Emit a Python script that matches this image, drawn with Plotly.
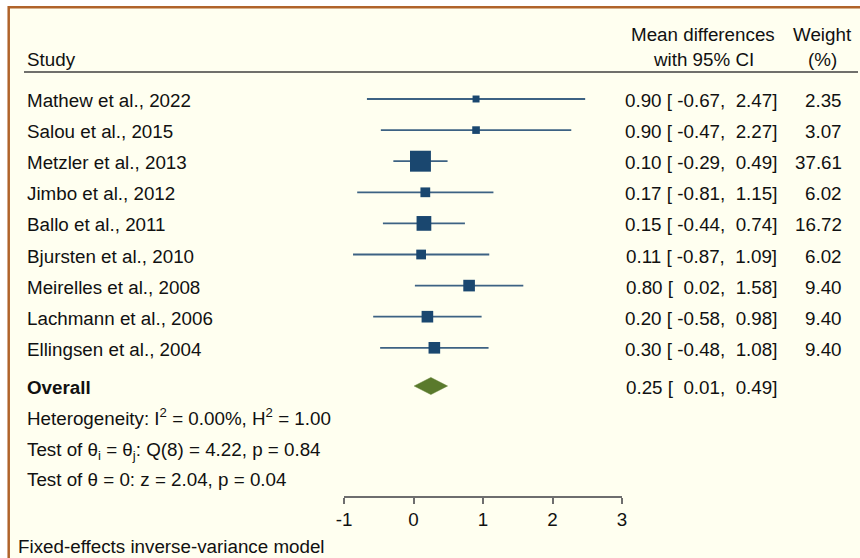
import plotly.graph_objects as go

studies = ["Mathew et al., 2022", "Salou et al., 2015", "Metzler et al., 2013",
           "Jimbo et al., 2012", "Ballo et al., 2011", "Bjursten et al., 2010",
           "Meirelles et al., 2008", "Lachmann et al., 2006", "Ellingsen et al., 2004"]
est = [0.90, 0.90, 0.10, 0.17, 0.15, 0.11, 0.80, 0.20, 0.30]
ci_low = [-0.67, -0.47, -0.29, -0.81, -0.44, -0.87, 0.02, -0.58, -0.48]
ci_high = [2.47, 2.27, 0.49, 1.15, 0.74, 1.09, 1.58, 0.98, 1.08]
weights = [2.35, 3.07, 37.61, 6.02, 16.72, 6.02, 9.40, 9.40, 9.40]

overall_est = 0.25
overall_low = 0.01
overall_high = 0.49

tick_vals = [-1, 0, 1, 2, 3]
tick_text = ["-1", "0", "1", "2", "3"]

stats_lines = [
    "Heterogeneity: I<sup>2</sup> = 0.00%, H<sup>2</sup> = 1.00",
    "Test of θ<sub>i</sub> = θ<sub>j</sub>: Q(8) = 4.22, p = 0.84",
    "Test of θ = 0: z = 2.04, p = 0.04",
]
footer = "Fixed-effects inverse-variance model"

W, H = 860, 558
FONT = "Liberation Sans, Arial, sans-serif"
FS = 18.8
TXT = "#111111"
NAVY = "#1a476f"
LINEC = "#3d6283"
GREEN = "#5a7a2c"

# layout helpers: row r sits at pixel 99 + 31.1*r
ROW0, ROWH = 99.0, 31.1
AX_PX = 496.0
def r_of(px):
    return (px - ROW0) / ROWH

fig = go.Figure()

rows = list(range(len(studies)))

# CI lines
for i in rows:
    fig.add_trace(go.Scatter(x=[ci_low[i], ci_high[i]], y=[i, i], mode="lines",
                             line=dict(color=LINEC, width=1.8), hoverinfo="skip",
                             showlegend=False, cliponaxis=False))

# squares sized by weight
sizes = [3.04 * (w ** 0.5) + 2.3 for w in weights]
fig.add_trace(go.Scatter(x=est, y=rows, mode="markers",
                         marker=dict(symbol="square", size=sizes, color=NAVY,
                                     opacity=1, line=dict(width=0)),
                         showlegend=False, cliponaxis=False))

# overall diamond
r_ov = r_of(386)
hh = 8.5 / ROWH
fig.add_trace(go.Scatter(x=[overall_low, overall_est, overall_high, overall_est, overall_low],
                         y=[r_ov, r_ov - hh, r_ov, r_ov + hh, r_ov],
                         mode="lines", fill="toself", fillcolor=GREEN,
                         line=dict(color=GREEN, width=0.5), showlegend=False,
                         cliponaxis=False, hoverinfo="skip"))

ann = []
def txt(text, xpx, ypx, xanchor="left", bold=False):
    t = f"<b>{text}</b>" if bold else text
    ann.append(dict(text=t, x=xpx / W, xref="paper", y=r_of(ypx), yref="y",
                    xanchor=xanchor, yanchor="middle", showarrow=False,
                    font=dict(family=FONT, size=FS, color=TXT)))

NB = "\u00a0"
for i in rows:
    ypx = ROW0 + ROWH * i + 1.5
    txt(studies[i], 25, ypx)
    s = f"{est[i]:.2f} [{ci_low[i]:6.2f}, {ci_high[i]:5.2f}]".replace(" ", NB)
    txt(s, 779, ypx, xanchor="right")
    txt(f"{weights[i]:.2f}", 844, ypx, xanchor="right")

txt("Overall", 25, 387.5, bold=True)
s = f"{overall_est:.2f} [{overall_low:6.2f}, {overall_high:5.2f}]".replace(" ", NB)
txt(s, 779, 387.5, xanchor="right")

for k, line in enumerate(stats_lines):
    txt(line, 25, [416.5, 451, 479.5][k])

txt("Study", 25, 59.5)
txt("Mean differences", 703, 34, xanchor="center")
txt("with 95% CI", 703, 59, xanchor="center")
txt("Weight", 822, 34, xanchor="center")
txt("(%)", 822, 59, xanchor="center")

ann.append(dict(text=footer, x=16 / W, xref="paper", y=(H - 546) / H, yref="paper",
                xanchor="left", yanchor="middle", showarrow=False,
                font=dict(family=FONT, size=FS, color=TXT)))

shapes = [
    dict(type="rect", xref="paper", yref="paper", x0=8.7 / W, x1=1.2,
         y0=-0.2, y1=(H - 7.3) / H, line=dict(color="#b0632a", width=2.5),
         fillcolor="#fffff0", layer="below"),
    dict(type="line", xref="paper", yref="y", x0=24 / W, x1=858 / W,
         y0=r_of(72), y1=r_of(72), line=dict(color="#404040", width=1.6)),
]

fig.update_layout(
    template="none",
    width=W, height=H, margin=dict(l=0, r=0, t=0, b=0, pad=0, autoexpand=False),
    autosize=False,
    paper_bgcolor="white", plot_bgcolor="rgba(0,0,0,0)",
    annotations=ann, shapes=shapes, showlegend=False,
    xaxis=dict(domain=[344 / W, 622 / W], range=[-1, 3], tickvals=tick_vals,
               ticktext=tick_text, showline=True, linecolor="#6e6e6e", linewidth=1.5,
               ticks="outside", ticklen=6, tickwidth=1.5, tickcolor="#6e6e6e",
               showgrid=False, zeroline=False, automargin=False,
               tickfont=dict(family=FONT, size=FS, color=TXT)),
    yaxis=dict(domain=[(H - AX_PX) / H, 1], range=[r_of(AX_PX), r_of(0)],
               visible=False, showgrid=False, zeroline=False, automargin=False),
)

fig.write_html("out.html", config={"responsive": False, "displayModeBar": False},
               post_script="document.body.style.margin='0';document.body.style.overflow='hidden';")
